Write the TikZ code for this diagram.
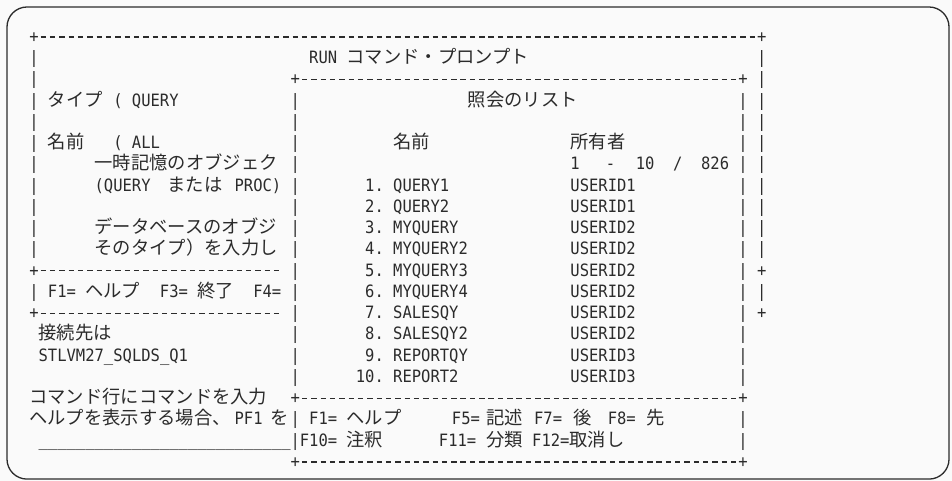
\documentclass[tikz,border=0pt]{standalone}
\usepackage{fontspec}
\usepackage{tikz}
\newfontfamily\monofont[FakeStretch=0.912,Ligatures=TeXOff]{DejaVu Sans Mono}
\newfontfamily\jpfont{Noto Sans CJK JP}
\newcommand\scrmono{\monofont\fontsize{17pt}{20pt}\selectfont}
\newcommand\scrjp{\jpfont\fontsize{18.3pt}{20pt}\selectfont}
\newcommand\dsh{\makebox[9.33pt]{\rule[4.8pt]{5.4pt}{1.1pt}}}
\definecolor{ink}{HTML}{2B2B2B}

\begin{document}
\begin{tikzpicture}[x=9.33pt, y=-21.25pt,
    every node/.style={anchor=base west, inner sep=0pt, outer sep=0pt, text=ink, font=\scrmono},
    jp/.style={font=\scrjp}]
    \useasboundingbox (-3.644,-1.694) rectangle (98.39,20.94);
    \fill[black!2] (-3.644,-1.694) rectangle (98.39,20.94);
    \draw[ink, line width=1.3pt, rounded corners=20pt] (-2.894,-1.365) rectangle (98.07,20.85);

    % prompt window
    \node (ot) at (-0.5,0.3) {+\foreach\k in {1,...,77}{\dsh}+};
    \foreach \r in {1,...,10} {
        \node (ol\r) at (-0.5,\r+0.3) {|};
        \node (or\r) at (77.5,\r+0.3) {|};
    }
    \node (ol12) at (-0.5,12.3) {|};
    \node (or12) at (77.5,12.3) {|};
    \node (ob11) at (-0.5,11.3) {+\foreach\k in {1,...,26}{\dsh}};
    \node (ob13) at (-0.5,13.3) {+\foreach\k in {1,...,26}{\dsh}};
    \node (oc11) at (77.5,11.3) {+};
    \node (oc13) at (77.5,13.3) {+};

    \node (run) at (29.5,1.3) {RUN};
    \node[jp] (runjp) at (33.5,1.3) {コマンド・プロンプト};

    \node[jp] (type) at (1.5,3.3) {タイプ};
    \node (typep) at (8.5,3.3) {(};
    \node (typev) at (10.5,3.3) {QUERY};
    \node[jp] (name) at (1.5,5.3) {名前};
    \node (namep) at (8.5,5.3) {(};
    \node (namev) at (10.5,5.3) {ALL};
    \node[jp] (tmpa) at (6.5,6.3) {一時記憶のオブジェク};
    \node (tmpb) at (6.5,7.3) {(QUERY};
    \node[jp] (tmpc) at (14.3,7.3) {または};
    \node (tmpd) at (21.5,7.3) {PROC)};
    \node[jp] (dba) at (6.5,9.3) {データベースのオブジ};
    \node[jp] (dbb) at (6.5,10.3) {そのタイプ）を入力し};

    \node (fa) at (1.5,12.3) {F1=};
    \node[jp] (fb) at (5.5,12.3) {ヘルプ};
    \node (fc) at (13.5,12.3) {F3=};
    \node[jp] (fd) at (17.5,12.3) {終了};
    \node (fe) at (23.5,12.3) {F4=};

    \node[jp] (conn) at (0.5,14.3) {接続先は};
    \node (db) at (0.5,15.3) {STLVM27\_SQLDS\_Q1};
    \node[jp] (cmda) at (-0.5,17.3) {コマンド行にコマンドを入力};
    \node[jp] (cmdb) at (-0.5,18.3) {ヘルプを表示する場合、};
    \node (cmdc) at (21.5,18.3) {PF1};
    \node[jp] (cmdd) at (25.3,18.3) {を};
    \node (cmdl) at (0.5,19.3) {\foreach\k in {1,...,27}{\_}};

    % list window
    \node (lt) at (27.5,2.3) {+\foreach\k in {1,...,47}{\dsh}+};
    \foreach \r in {3,...,16,18,19} {
        \node (ll\r) at (27.5,\r+0.3) {|};
        \node (lr\r) at (75.5,\r+0.3) {|};
    }
    \node (lm) at (27.5,17.3) {+\foreach\k in {1,...,47}{\dsh}+};
    \node (lb) at (27.5,20.3) {+\foreach\k in {1,...,47}{\dsh}+};

    \node[jp] (title) at (46.5,3.3) {照会のリスト};
    \node[jp] (hname) at (38.5,5.3) {名前};
    \node[jp] (howner) at (57.5,5.3) {所有者};
    \node (cnta) at (57.5,6.3) {1};
    \node (cntb) at (61.3,6.3) {-};
    \node (cntc) at (64.5,6.3) {10};
    \node (cntd) at (68.5,6.3) {/};
    \node (cnte) at (71.5,6.3) {826};

    \foreach \nm/\own [count=\i] in {QUERY1/USERID1, QUERY2/USERID1, MYQUERY/USERID2,
        MYQUERY2/USERID2, MYQUERY3/USERID2, MYQUERY4/USERID2, SALESQY/USERID2,
        SALESQY2/USERID2, REPORTQY/USERID3, REPORT2/USERID3} {
        \node[anchor=base east] (no\i) at (37.5,\i+6.3) {\i.};
        \node (nm\i) at (38.5,\i+6.3) {\nm};
        \node (ow\i) at (57.5,\i+6.3) {\own};
    }

    \node (ka) at (29.5,18.3) {F1=};
    \node[jp] (kb) at (33.5,18.3) {ヘルプ};
    \node (kc) at (44.8,18.3) {F5=};
    \node[jp] (kd) at (48.5,18.3) {記述};
    \node (ke) at (53.6,18.3) {F7=};
    \node[jp] (kf) at (57.8,18.3) {後};
    \node (kg) at (61.5,18.3) {F8=};
    \node[jp] (kh) at (65.6,18.3) {先};
    \node (ki) at (28.5,19.3) {F10=};
    \node[jp] (kj) at (33.5,19.3) {注釈};
    \node (kk) at (43.4,19.3) {F11=};
    \node[jp] (kl) at (48.5,19.3) {分類};
    \node (km) at (53.4,19.3) {F12=};
    \node[jp] (kn) at (57.4,19.3) {取消し};
\end{tikzpicture}
\end{document}
